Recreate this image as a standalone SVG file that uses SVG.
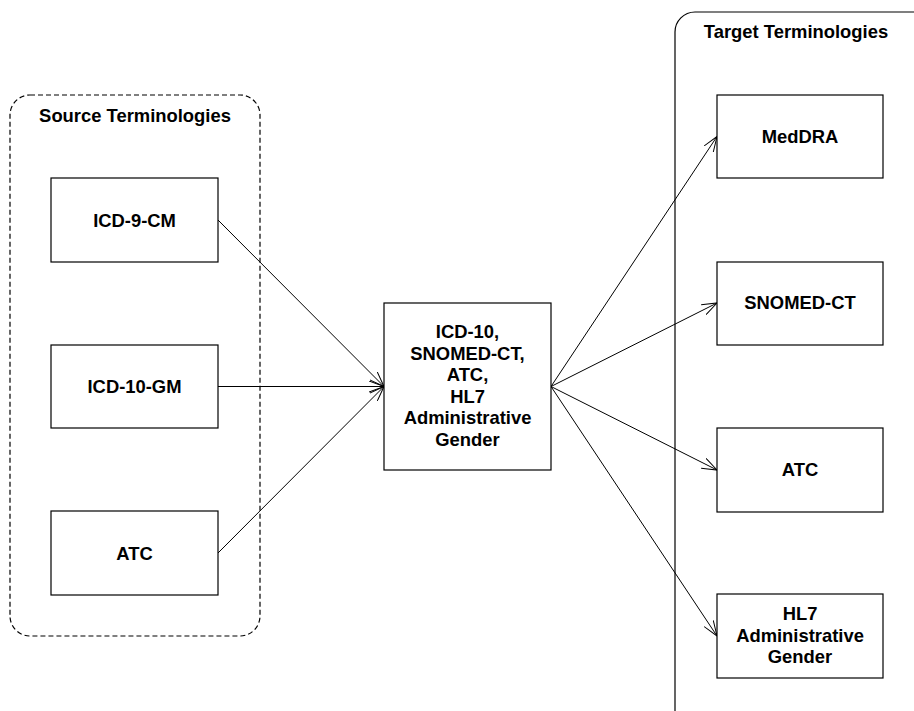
<svg xmlns="http://www.w3.org/2000/svg" width="914" height="711" viewBox="0 0 914 711">
<defs>
<style>
.box{fill:#fff;stroke:#000;stroke-width:1.2}
.grp{fill:none;stroke:#000;stroke-width:1.2}
.dash{stroke-dasharray:5,3}
.t{font-family:"Liberation Sans",Arial,sans-serif;font-weight:bold;font-size:18.4px;fill:#000;text-anchor:middle}
.c{fill:none;stroke:#000;stroke-width:1}
</style>
<marker id="ah" markerUnits="userSpaceOnUse" markerWidth="18" markerHeight="12" refX="15" refY="6" orient="auto">
<path d="M0,0.5 L15,6 L0,11.5" fill="none" stroke="#000" stroke-width="1"/>
</marker>
</defs>
<rect width="914" height="711" fill="#fff"/>
<g id="source-group">
<rect class="grp dash" x="10" y="95" width="250" height="541" rx="20" ry="20"/>
<text class="t" x="135" y="122">Source Terminologies</text>
</g>
<g id="target-group">
<rect class="grp" x="675" y="12" width="260" height="720" rx="20" ry="20"/>
<text class="t" x="796" y="38">Target Terminologies</text>
</g>
<g id="connectors">
<line class="c" x1="218" y1="220" x2="384" y2="386.5" marker-end="url(#ah)"/>
<line class="c" x1="218" y1="386.5" x2="384" y2="386.5" marker-end="url(#ah)"/>
<line class="c" x1="218" y1="553" x2="384" y2="386.5" marker-end="url(#ah)"/>
<line class="c" x1="551" y1="386.5" x2="717" y2="136.5" marker-end="url(#ah)"/>
<line class="c" x1="551" y1="386.5" x2="717" y2="303" marker-end="url(#ah)"/>
<line class="c" x1="551" y1="386.5" x2="717" y2="470" marker-end="url(#ah)"/>
<line class="c" x1="551" y1="386.5" x2="717" y2="636" marker-end="url(#ah)"/>
</g>
<g id="icd9cm">
<rect class="box" x="51" y="178" width="167" height="84"/>
<text class="t" x="134.5" y="226.5">ICD-9-CM</text>
</g>
<g id="icd10gm">
<rect class="box" x="51" y="345" width="167" height="83"/>
<text class="t" x="134.5" y="393">ICD-10-GM</text>
</g>
<g id="atc-source">
<rect class="box" x="51" y="511" width="167" height="84"/>
<text class="t" x="134.5" y="559.5">ATC</text>
</g>
<g id="central">
<rect class="box" x="384" y="303" width="167" height="167"/>
<text class="t" x="467.5" y="338">ICD-10,</text>
<text class="t" x="467.5" y="359.5">SNOMED-CT,</text>
<text class="t" x="467.5" y="381">ATC,</text>
<text class="t" x="467.5" y="402.5">HL7</text>
<text class="t" x="467.5" y="424">Administrative</text>
<text class="t" x="467.5" y="446">Gender</text>
</g>
<g id="meddra">
<rect class="box" x="717" y="95" width="166" height="83"/>
<text class="t" x="800" y="143">MedDRA</text>
</g>
<g id="snomedct">
<rect class="box" x="717" y="262" width="166" height="83"/>
<text class="t" x="800" y="309">SNOMED-CT</text>
</g>
<g id="atc-target">
<rect class="box" x="717" y="428" width="166" height="84"/>
<text class="t" x="800" y="476">ATC</text>
</g>
<g id="hl7">
<rect class="box" x="717" y="594" width="166" height="84"/>
<text class="t" x="800" y="620">HL7</text>
<text class="t" x="800" y="641.5">Administrative</text>
<text class="t" x="800" y="663">Gender</text>
</g>
</svg>
